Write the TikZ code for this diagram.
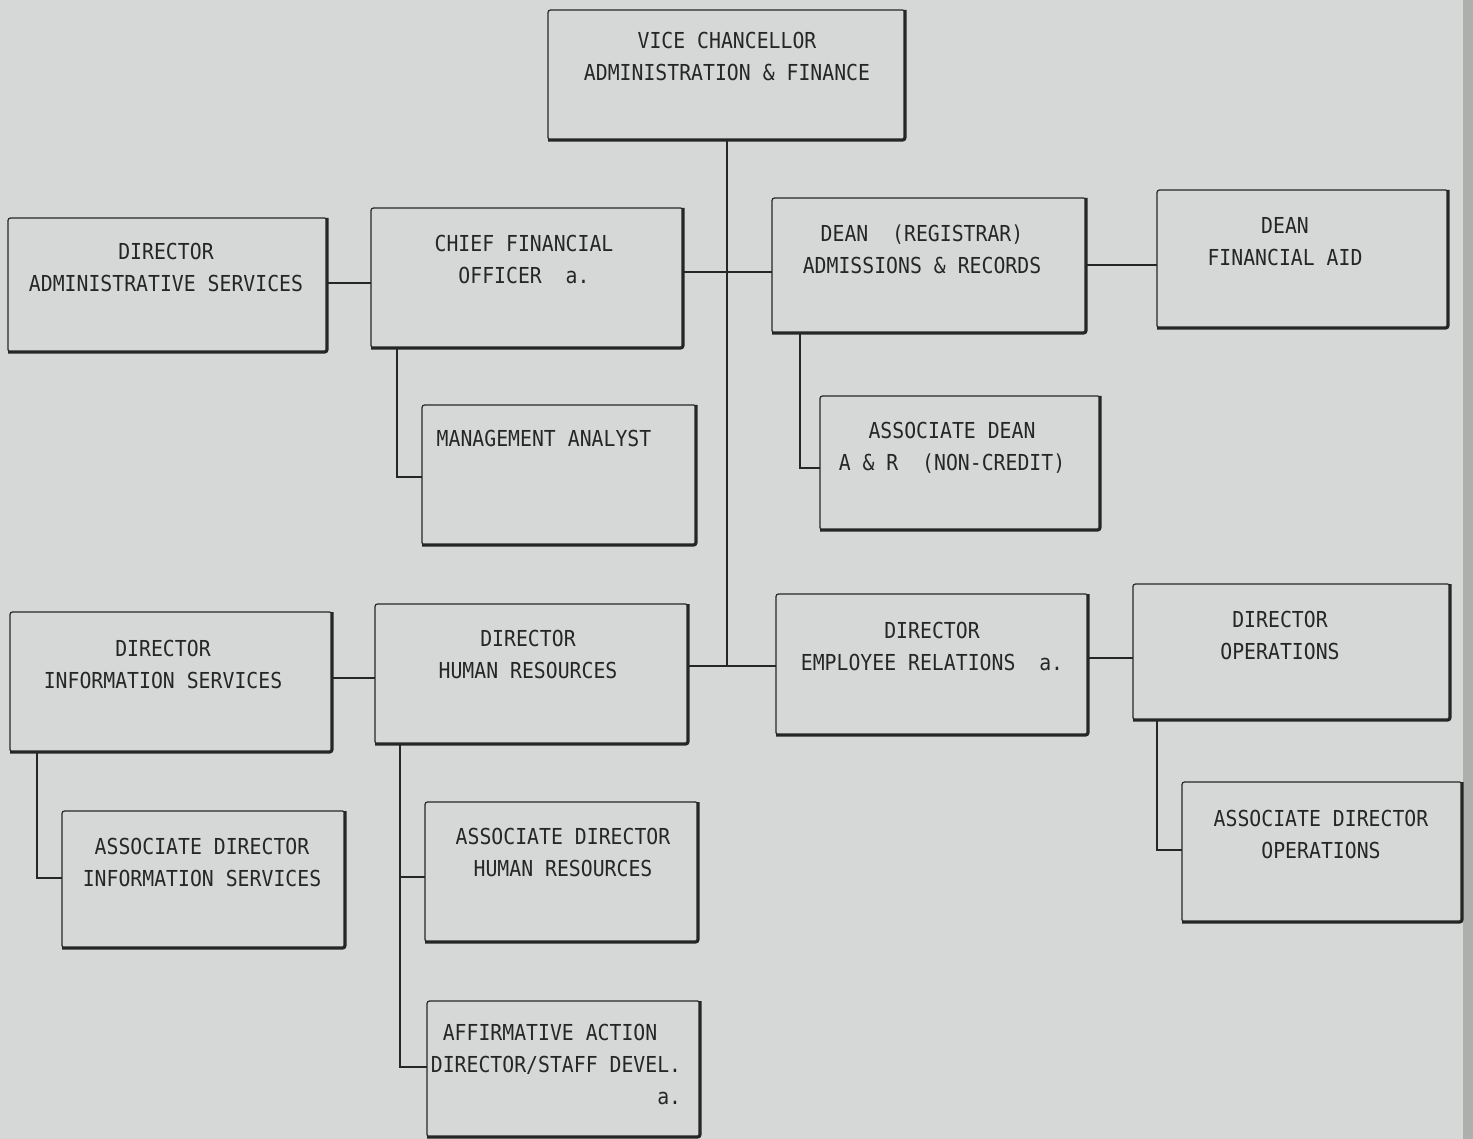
\documentclass[tikz,border=0pt]{standalone}
\usepackage{fontspec}
\newfontfamily\orgfont[FakeStretch=0.9]{DejaVu Sans Mono}
\definecolor{paper}{RGB}{213,216,214}
\definecolor{paperedge}{RGB}{172,175,172}
\definecolor{ink}{RGB}{38,38,38}
\tikzset{
  box/.style={draw=ink, line width=1.2pt, rounded corners=2.5pt, inner sep=0pt, outer sep=0pt},
  shadowedge/.style={draw=ink, line width=3.2pt, rounded corners=2.5pt},
  txt/.style={font=\orgfont\fontsize{22}{32}\selectfont, text=ink, align=center, inner sep=0pt},
  link/.style={draw=ink, line width=1.1pt}
}
\newcommand{\obox}[8]{%
  \node[box, minimum width=#4pt, minimum height=#5pt] (#1) at (#2,#3) {};
  \draw[shadowedge] (#1.north east) -- (#1.south east) -- (#1.south west);
  \node[txt] (#1-t) at (#6,#7) {#8};}
\begin{document}
\begin{tikzpicture}[x=1pt,y=-1pt]
\useasboundingbox (0,0) rectangle (1473,1139);
\fill[paper] (0,0) rectangle (1473,1139);
\fill[paperedge] (1463,0) rectangle (1473,1139);

\obox{vc}{726.5}{75}{357}{130}{727}{56}{VICE CHANCELLOR\\ADMINISTRATION \& FINANCE}
\obox{as}{167.5}{285}{319}{134}{166}{267.5}{DIRECTOR\\ADMINISTRATIVE SERVICES}
\obox{cfo}{527}{278}{312}{140}{524}{259}{CHIEF FINANCIAL\\OFFICER\ \ a.}
\obox{dr}{929}{265.5}{314}{135}{922}{249}{DEAN\ \ (REGISTRAR)\\ADMISSIONS \& RECORDS}
\obox{fa}{1302.5}{259}{291}{138}{1285}{241.5}{DEAN\\FINANCIAL AID}
\obox{ma}{559}{475}{274}{140}{544}{438}{MANAGEMENT ANALYST}
\obox{ad}{960}{463}{280}{134}{952}{447.5}{ASSOCIATE DEAN\\A \& R\ \ (NON-CREDIT)}
\obox{is}{171}{682}{322}{140}{163}{664}{DIRECTOR\\INFORMATION SERVICES}
\obox{hr}{531.5}{674}{313}{140}{528}{654.5}{DIRECTOR\\HUMAN RESOURCES}
\obox{er}{932}{664.5}{312}{141}{932}{646}{DIRECTOR\\EMPLOYEE RELATIONS\ \ a.}
\obox{op}{1291.5}{652}{317}{136}{1280}{635.5}{DIRECTOR\\OPERATIONS}
\obox{ais}{203.5}{879.5}{283}{137}{202}{862}{ASSOCIATE DIRECTOR\\INFORMATION SERVICES}
\obox{ahr}{561.5}{872}{273}{140}{563}{852.5}{ASSOCIATE DIRECTOR\\HUMAN RESOURCES}
\obox{aop}{1322}{852}{280}{140}{1321}{834}{ASSOCIATE DIRECTOR\\OPERATIONS}
\obox{aa}{563.5}{1069}{273}{136}{556}{1066}{%
  \begin{tabular}{@{}l@{}}\ AFFIRMATIVE ACTION\\DIRECTOR/STAFF DEVEL.\\\multicolumn{1}{@{}r@{}}{a.}\end{tabular}}

% junctions
\coordinate (j1) at (727,272);
\coordinate (j2) at (727,666);
\coordinate (c1) at (397,477);
\coordinate (c2) at (800,468);
\coordinate (c3) at (37,878);
\coordinate (c4) at (400,1067);
\coordinate (c5) at (400,877);
\coordinate (c6) at (1157,850);
\coordinate (h1) at (0,283);
\coordinate (h2) at (0,265);
\coordinate (h3) at (0,678);
\coordinate (h4) at (0,658);

\draw[link] (vc.south -| j1) -- (j2);
\draw[link] (j1 -| cfo.east) -- (j1 -| dr.west);
\draw[link] (j2 -| hr.east) -- (j2 -| er.west);
\draw[link] (h1 -| as.east) -- (h1 -| cfo.west);
\draw[link] (h2 -| dr.east) -- (h2 -| fa.west);
\draw[link] (h3 -| is.east) -- (h3 -| hr.west);
\draw[link] (h4 -| er.east) -- (h4 -| op.west);
\draw[link] (c1 |- cfo.south) -- (c1) -- (c1 -| ma.west);
\draw[link] (c2 |- dr.south) -- (c2) -- (c2 -| ad.west);
\draw[link] (c3 |- is.south) -- (c3) -- (c3 -| ais.west);
\draw[link] (c4 |- hr.south) -- (c4) -- (c4 -| aa.west);
\draw[link] (c5) -- (c5 -| ahr.west);
\draw[link] (c6 |- op.south) -- (c6) -- (c6 -| aop.west);
\end{tikzpicture}
\end{document}
